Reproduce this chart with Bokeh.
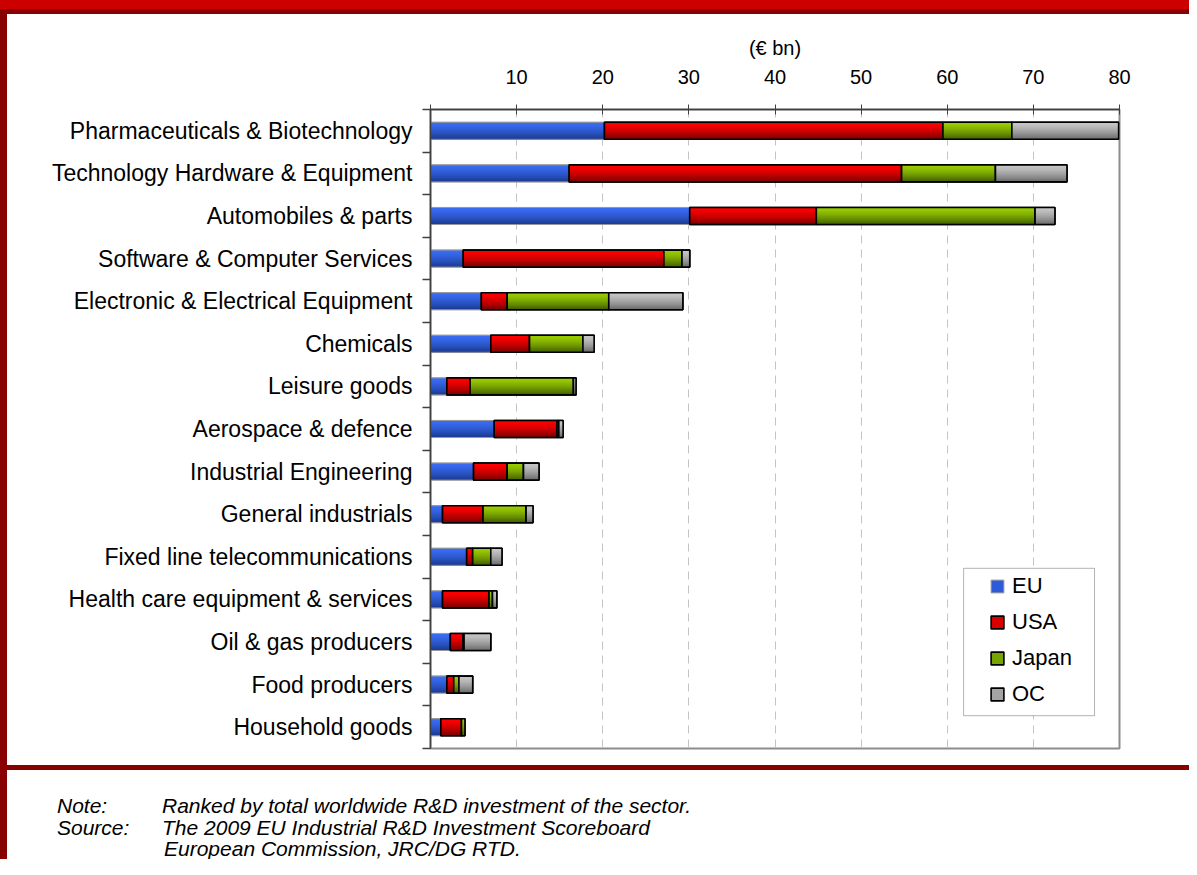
from bokeh.plotting import figure
from bokeh.models import (ColumnDataSource, Range1d, LinearAxis, FixedTicker,
                          Legend, LegendItem, Div, BoxAnnotation)
from bokeh.layouts import column, row
from bokeh.embed import file_html
from bokeh.resources import INLINE

# ---------------- data ----------------
categories = [
    "Pharmaceuticals & Biotechnology",
    "Technology Hardware & Equipment",
    "Automobiles & parts",
    "Software & Computer Services",
    "Electronic & Electrical Equipment",
    "Chemicals",
    "Leisure goods",
    "Aerospace & defence",
    "Industrial Engineering",
    "General industrials",
    "Fixed line telecommunications",
    "Health care equipment & services",
    "Oil & gas producers",
    "Food producers",
    "Household goods",
]
eu    = [20.2, 16.1, 30.1, 3.8, 5.9, 7.0, 1.9, 7.4, 5.0, 1.4, 4.2, 1.4, 2.3, 1.9, 1.2]
usa   = [39.3, 38.6, 14.7, 23.3, 3.0, 4.5, 2.7, 7.3, 3.9, 4.7, 0.7, 5.4, 1.5, 0.8, 2.4]
japan = [8.0, 10.9, 25.4, 2.1, 11.8, 6.2, 12.0, 0.2, 1.9, 5.0, 2.1, 0.4, 0.1, 0.6, 0.4]
oc    = [12.4, 8.3, 2.3, 0.9, 8.6, 1.3, 0.3, 0.5, 1.8, 0.8, 1.3, 0.5, 3.1, 1.6, 0.0]
series_names = ["EU", "USA", "Japan", "OC"]
x_tick_values = [0, 10, 20, 30, 40, 50, 60, 70, 80]
x_tick_labels = ["", "10", "20", "30", "40", "50", "60", "70", "80"]
unit_label = "(€ bn)"
note_label = "Note:"
note_text = "Ranked by total worldwide R&D investment of the sector."
source_label = "Source:"
source_lines = ["The 2009 EU Industrial R&D Investment Scoreboard",
                "European Commission, JRC/DG RTD."]

# ---------------- styles ----------------
FONT = "Liberation Sans"
DARK_RED = "#880000"
BRIGHT_RED = "#cc0000"
AXIS_COLOR = "#404040"
grad = {
    "EU": ("#3a6cf2", "#1b3a92"),
    "USA": ("#ff0000", "#7c0000"),
    "Japan": ("#9acc00", "#436000"),
    "OC": ("#c6c6c6", "#6c6c6c"),
}
legend_fill = {"EU": "#2d5ad8", "USA": "#d80000", "Japan": "#78a400", "OC": "#a4a4a4"}
edge = {"EU": "#9a9a9a", "USA": "#000000", "Japan": "#000000", "OC": "#000000"}
edge_w = {"EU": 1.0, "USA": 1.6, "Japan": 1.6, "OC": 1.6}


def mix(c1, c2, t):
    a = [int(c1[i:i + 2], 16) for i in (1, 3, 5)]
    b = [int(c2[i:i + 2], 16) for i in (1, 3, 5)]
    return "#%02x%02x%02x" % tuple(int(round(x + (y - x) * t)) for x, y in zip(a, b))


n = len(categories)
centers = [i + 0.5 for i in range(n)]
bounds = list(range(n + 1))
bar_height = 0.4
n_strips = 16

p = figure(width=1182, height=751,
           x_range=Range1d(0, 80), y_range=Range1d(n, 0),
           x_axis_location="above", y_axis_location=None,
           output_backend="svg", toolbar_location=None,
           min_border_left=423, min_border_right=70,
           min_border_top=95, min_border_bottom=17)
p.background_fill_color = "white"
p.border_fill_color = "white"
p.outline_line_color = "#8c8c8c"
p.outline_line_width = 2

# top x axis
xa = p.xaxis[0]
xa.ticker = FixedTicker(ticks=x_tick_values, minor_ticks=[])
xa.major_label_overrides = {v: s for v, s in zip(x_tick_values, x_tick_labels)}
xa.axis_line_color = AXIS_COLOR
xa.axis_line_width = 1.5
xa.major_tick_line_color = AXIS_COLOR
xa.major_tick_in = 5
xa.major_tick_out = 5
xa.minor_tick_line_color = None
xa.major_label_text_font = FONT
xa.major_label_text_font_size = "20px"
xa.major_label_text_color = "black"
xa.major_label_standoff = 21
xa.axis_label = unit_label
xa.axis_label_text_font = FONT
xa.axis_label_text_font_size = "20px"
xa.axis_label_text_font_style = "normal"
xa.axis_label_text_color = "black"
xa.axis_label_standoff = 8

p.xgrid.ticker = FixedTicker(ticks=x_tick_values[1:-1])
p.xgrid.grid_line_color = "#c4c4c4"
p.xgrid.grid_line_dash = "8 6"
p.xgrid.grid_line_width = 1
p.ygrid.visible = False

# left category axis: labels at centres, tick marks at boundaries
ya = LinearAxis(
    ticker=FixedTicker(ticks=centers, minor_ticks=bounds),
    major_label_overrides={c: name for c, name in zip(centers, categories)},
    major_tick_line_color=None, major_tick_in=0, major_tick_out=0,
    minor_tick_line_color=AXIS_COLOR, minor_tick_in=0, minor_tick_out=8,
    minor_tick_line_width=1.5,
    axis_line_color=AXIS_COLOR, axis_line_width=1.5,
    major_label_standoff=10,
    major_label_text_font=FONT, major_label_text_font_size="23px",
    major_label_text_color="black",
)
p.add_layout(ya, "left")

# stacked bars: flat base (legend glyph) + vertical gradient strips + outline
values = {"EU": eu, "USA": usa, "Japan": japan, "OC": oc}
cum = [0.0] * n
legend_items = []
for name in series_names:
    vals = values[name]
    lefts = cum[:]
    rights = [l + v for l, v in zip(lefts, vals)]
    cum = rights
    keep = [i for i in range(n) if vals[i] > 0]
    base = p.hbar(y=[centers[i] for i in keep], left=[lefts[i] for i in keep],
                  right=[rights[i] for i in keep], height=bar_height,
                  fill_color=legend_fill[name], line_color=edge[name],
                  line_width=edge_w[name])
    legend_items.append(LegendItem(label=name, renderers=[base]))
    top_c, bot_c = grad[name]
    ys, hs, ls, rs, cs = [], [], [], [], []
    for i in keep:
        bottom = centers[i] + bar_height / 2
        for k in range(n_strips):
            top = centers[i] - bar_height / 2 + k * bar_height / n_strips
            ys.append((top + bottom) / 2)
            hs.append(bottom - top)
            ls.append(lefts[i])
            rs.append(rights[i])
            cs.append(mix(top_c, bot_c, (k / (n_strips - 1)) ** 1.4))
    p.hbar(y="y", left="left", right="right", height="h",
           fill_color="color", line_color=None,
           source=ColumnDataSource(dict(y=ys, h=hs, left=ls, right=rs, color=cs)))
    p.hbar(y=[centers[i] for i in keep], left=[lefts[i] for i in keep],
           right=[rights[i] for i in keep], height=bar_height,
           fill_color=None, line_color=edge[name], line_width=edge_w[name])

# legend frame
frame = BoxAnnotation(left=61.9, right=77.1, top=10.77, bottom=14.23,
                      fill_color="white", fill_alpha=1.0,
                      line_color="black", line_width=1)
p.add_layout(frame)

legend = Legend(items=legend_items, location=(559, 41),
                border_line_color=None, background_fill_alpha=0,
                glyph_width=16, glyph_height=16, label_height=24,
                spacing=10, padding=0, margin=0, label_standoff=7,
                label_text_font=FONT, label_text_font_size="22px",
                label_text_color="black")
p.add_layout(legend, "center")

# ---------------- frame decorations & notes ----------------
top_bar1 = Div(width=1189, height=9, margin=0, styles={"background-color": BRIGHT_RED})
top_bar2 = Div(width=1189, height=5, margin=0, styles={"background-color": DARK_RED})
left_bar1 = Div(width=7, height=751, margin=0, styles={"background-color": DARK_RED})
mid_bar = Div(width=1189, height=5, margin=0, styles={"background-color": DARK_RED})
left_bar2 = Div(width=7, height=89, margin=0, styles={"background-color": DARK_RED})

line_tops = [25, 47, 68]
notes_html = (
    '<div style="position:relative;width:1182px;height:89px;overflow:hidden;'
    "font-family:'Liberation Sans';font-style:italic;font-size:21px;line-height:21px;color:#000;\">"
    f'<div style="position:absolute;left:50px;top:{line_tops[0]}px;white-space:nowrap">{note_label}</div>'
    f'<div style="position:absolute;left:155px;top:{line_tops[0]}px;white-space:nowrap">{note_text.replace("&", "&amp;")}</div>'
    f'<div style="position:absolute;left:50px;top:{line_tops[1]}px;white-space:nowrap">{source_label}</div>'
    f'<div style="position:absolute;left:155px;top:{line_tops[1]}px;white-space:nowrap">{source_lines[0].replace("&", "&amp;")}</div>'
    f'<div style="position:absolute;left:157px;top:{line_tops[2]}px;white-space:nowrap">{source_lines[1]}</div>'
    '</div>'
)
notes = Div(text=notes_html, width=1182, height=89, margin=0)

layout = column(
    top_bar1,
    top_bar2,
    row(left_bar1, p, spacing=0),
    mid_bar,
    row(left_bar2, notes, spacing=0),
    spacing=0,
)

open("out.html", "w").write(file_html(layout, INLINE))
